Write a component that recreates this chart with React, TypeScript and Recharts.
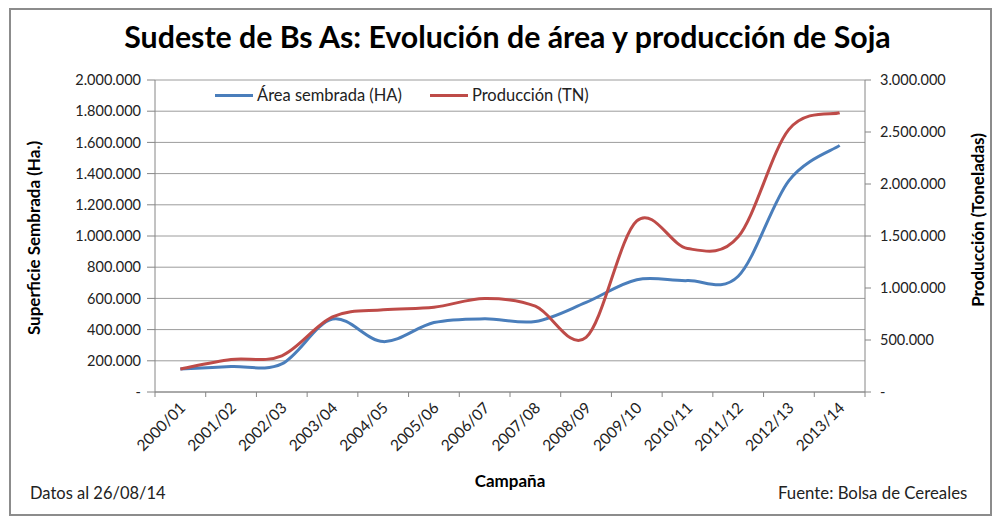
import React from "react"
import { LineChart, Line, XAxis, YAxis, CartesianGrid, Legend } from "recharts"

const CAMPAIGNS = [
  "2000/01", "2001/02", "2002/03", "2003/04", "2004/05", "2005/06", "2006/07",
  "2007/08", "2008/09", "2009/10", "2010/11", "2011/12", "2012/13", "2013/14",
]
// hectáreas sembradas (eje izquierdo)
const AREA_HA = [
  148000, 163000, 180000, 467000, 323000, 445000, 469000,
  452000, 574000, 720000, 714000, 742000, 1355000, 1581000,
]
// toneladas (eje derecho)
const PRODUCTION_TN = [
  221000, 312000, 348000, 722000, 790000, 815000, 899000,
  825000, 525000, 1645000, 1380000, 1492000, 2525000, 2685000,
]
const LEFT_TICKS = [0, 200000, 400000, 600000, 800000, 1000000, 1200000, 1400000, 1600000, 1800000, 2000000]
const RIGHT_TICKS = [0, 500000, 1000000, 1500000, 2000000, 2500000, 3000000]

const BLUE = "#4a7ebb"
const RED = "#be4b48"
const AXIS = "#868686"
const GRID = "#9c9c9c"
const FONT = "Lato, 'Open Sans', sans-serif"

const rows = CAMPAIGNS.map((c, i) => ({
  campaign: c,
  pos: i + 0.5,
  area: AREA_HA[i],
  prod: PRODUCTION_TN[i],
}))
const X_TICKS = Array.from({ length: CAMPAIGNS.length * 2 + 1 }, (_, i) => i / 2)

const fmt = (v: number) => (v === 0 ? "-" : String(v).replace(/\B(?=(\d{3})+(?!\d))/g, "."))

// Excel-like smoothed line (Catmull-Rom through the points)
function excelCurve(context: any) {
  let pts: number[][] = []
  return {
    areaStart() {},
    areaEnd() {},
    lineStart() {
      pts = []
    },
    point(x: number, y: number) {
      pts.push([+x, +y])
    },
    lineEnd() {
      const n = pts.length
      if (!n) return
      context.moveTo(pts[0][0], pts[0][1])
      for (let i = 0; i < n - 1; i++) {
        const p0 = pts[i - 1] || pts[i]
        const p1 = pts[i]
        const p2 = pts[i + 1]
        const p3 = pts[i + 2] || p2
        context.bezierCurveTo(
          p1[0] + (p2[0] - p0[0]) / 6,
          p1[1] + (p2[1] - p0[1]) / 6,
          p2[0] - (p3[0] - p1[0]) / 6,
          p2[1] - (p3[1] - p1[1]) / 6,
          p2[0],
          p2[1]
        )
      }
    },
  }
}

function CampaignTick({ x, y, payload }: any) {
  const v = payload.value
  if (Number.isInteger(v)) {
    return <line x1={x} x2={x} y1={y - 6} y2={y - 1} stroke={AXIS} />
  }
  const label = CAMPAIGNS[Math.floor(v)]
  const tx = x + 6
  const ty = y + 11
  return (
    <text
      x={tx}
      y={ty}
      transform={`rotate(-45 ${tx} ${ty})`}
      textAnchor="end"
      fontSize={15.5}
      fontFamily={FONT}
      fill="#222"
    >
      {label}
    </text>
  )
}

function LegendContent() {
  const items = [
    { name: "Área sembrada (HA)", color: BLUE },
    { name: "Producción (TN)", color: RED },
  ]
  return (
    <div style={{ display: "flex", fontFamily: FONT, fontSize: 16.5, color: "#222" }}>
      {items.map((it) => (
        <div key={it.name} style={{ display: "flex", alignItems: "center", marginRight: 28 }}>
          <span style={{ width: 38, height: 3, background: it.color, marginRight: 4 }} />
          <span>{it.name}</span>
        </div>
      ))}
    </div>
  )
}

const textStyle: React.CSSProperties = {
  position: "absolute",
  fontFamily: FONT,
  color: "#222",
  whiteSpace: "nowrap",
}

export default function App() {
  return (
    <div style={{ position: "relative", width: 992, height: 516, background: "#fff" }}>
      <style>{`body{margin:0}`}</style>
      <div
        style={{
          position: "absolute",
          left: 9,
          top: 8,
          width: 979,
          height: 504,
          border: "2px solid #8c8c8c",
        }}
      />
      <div
        style={{
          ...textStyle,
          left: 0,
          width: 1015,
          top: 18,
          textAlign: "center",
          fontSize: 30.3,
          fontWeight: 700,
          color: "#000",
        }}
      >
        Sudeste de Bs As: Evolución de área y producción de Soja
      </div>
      <div style={{ position: "absolute", left: 0, top: 0 }}>
        <LineChart
          width={992}
          height={516}
          data={rows}
          margin={{ top: 80, right: 17, bottom: 0, left: 15 }}
        >
          <CartesianGrid yAxisId="left" vertical={false} stroke={GRID} />
          <XAxis
            dataKey="pos"
            type="number"
            domain={[0, CAMPAIGNS.length]}
            ticks={X_TICKS}
            interval={0}
            tick={<CampaignTick />}
            tickLine={false}
            tickSize={6}
            tickMargin={0}
            height={124}
            stroke={AXIS}
          />
          <YAxis
            yAxisId="left"
            domain={[0, 2000000]}
            ticks={LEFT_TICKS}
            interval={0}
            tickFormatter={fmt}
            width={140}
            tickSize={8}
            tickMargin={6}
            stroke={AXIS}
            tick={{ fill: "#222", fontSize: 14.5, fontFamily: FONT }}
          />
          <YAxis
            yAxisId="right"
            orientation="right"
            domain={[0, 3000000]}
            ticks={RIGHT_TICKS}
            interval={0}
            tickFormatter={fmt}
            width={110}
            tickSize={6}
            tickMargin={9}
            stroke={AXIS}
            tick={{ fill: "#222", fontSize: 14.5, fontFamily: FONT, textAnchor: "start" }}
          />
          <Legend
            layout="horizontal"
            verticalAlign="middle"
            align="center"
            wrapperStyle={{ top: 85, left: 215, width: 460 }}
            content={<LegendContent />}
          />
          <Line
            yAxisId="left"
            dataKey="area"
            name="Área sembrada (HA)"
            type={excelCurve as any}
            stroke={BLUE}
            strokeWidth={3}
            dot={false}
            isAnimationActive={false}
          />
          <Line
            yAxisId="right"
            dataKey="prod"
            name="Producción (TN)"
            type={excelCurve as any}
            stroke={RED}
            strokeWidth={3}
            dot={false}
            isAnimationActive={false}
          />
        </LineChart>
      </div>
      <div
        style={{
          ...textStyle,
          left: 33,
          top: 238,
          fontSize: 17,
          fontWeight: 700,
          color: "#000",
          transform: "translate(-50%, -50%) rotate(-90deg)",
        }}
      >
        Superficie Sembrada (Ha.)
      </div>
      <div
        style={{
          ...textStyle,
          left: 977,
          top: 220,
          fontSize: 17,
          fontWeight: 700,
          color: "#000",
          transform: "translate(-50%, -50%) rotate(-90deg)",
        }}
      >
        Producción (Toneladas)
      </div>
      <div
        style={{
          ...textStyle,
          left: 510,
          top: 480,
          fontSize: 17,
          fontWeight: 700,
          color: "#000",
          transform: "translate(-50%, -50%)",
        }}
      >
        Campaña
      </div>
      <div style={{ ...textStyle, left: 30, top: 483, fontSize: 16.5 }}>Datos al 26/08/14</div>
      <div style={{ ...textStyle, left: 778, top: 482, fontSize: 16.8 }}>Fuente: Bolsa de Cereales</div>
    </div>
  )
}
